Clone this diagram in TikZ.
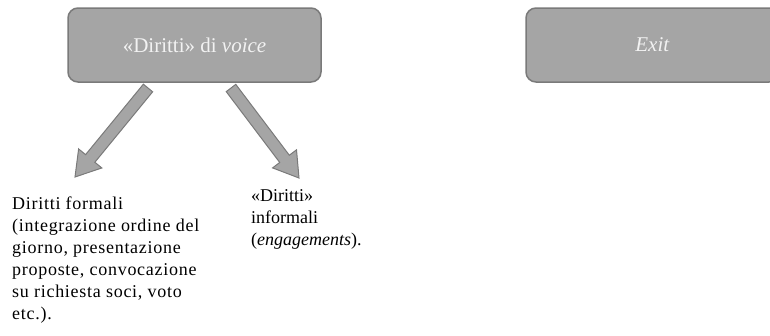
\documentclass[tikz,border=0pt]{standalone}
\usepackage{fontspec}
\setmainfont{Liberation Serif}
\newfontfamily\spacedserif[LetterSpace=4.0]{Liberation Serif}
\usetikzlibrary{calc}
\definecolor{boxfill}{HTML}{A5A5A5}
\definecolor{boxline}{HTML}{7A7A7A}
\definecolor{boxtext}{HTML}{F2F2F2}
\tikzset{
  gbox/.style={draw=boxline, line width=1.5pt, fill=boxfill, rounded corners=10pt,
    minimum width=253pt, minimum height=74pt, inner sep=0pt,
    text=boxtext, font=\fontsize{21}{24}\selectfont},
  btext/.style={align=left, inner sep=0pt, font=\fontsize{18}{22}\selectfont, text=black},
  barrow/.style={draw=boxline, line width=1pt, fill=boxfill}
}
\begin{document}
\begin{tikzpicture}[x=1pt,y=-1pt]
\useasboundingbox (0,0) rectangle (770,335);
\clip (0,0) rectangle (770,335);
\node[gbox] (voice) at (194.5,45) {«Diritti» di \textit{voice}};
\node[gbox] (exit) at (652.5,45) {\textit{Exit}};
\node[btext, font=\spacedserif\fontsize{18}{22}\selectfont, anchor=north west] (formali) at (12,197) {Diritti formali\\(integrazione ordine del\\giorno, presentazione\\proposte, convocazione\\su richiesta soci, voto\\etc.).};
\node[btext, anchor=north west] (informali) at (251,189) {«Diritti»\\informali\\(\textit{engagements}).};
\coordinate (t1) at (148,88);
\coordinate (h1) at (75,177);
\coordinate (t2) at (231,88);
\coordinate (h2) at (299,178);
\foreach \t/\h in {t1/h1, t2/h2}{
  \coordinate (b) at ($(\h)!24pt!(\t)$);
  \draw[barrow] ($(\t)!6pt!90:(\h)$) -- ($(b)!6pt!90:(\h)$) -- ($(b)!15pt!90:(\h)$) -- (\h)
    -- ($(b)!15pt!-90:(\h)$) -- ($(b)!6pt!-90:(\h)$) -- ($(\t)!6pt!-90:(\h)$) -- cycle;
}
\end{tikzpicture}
\end{document}
